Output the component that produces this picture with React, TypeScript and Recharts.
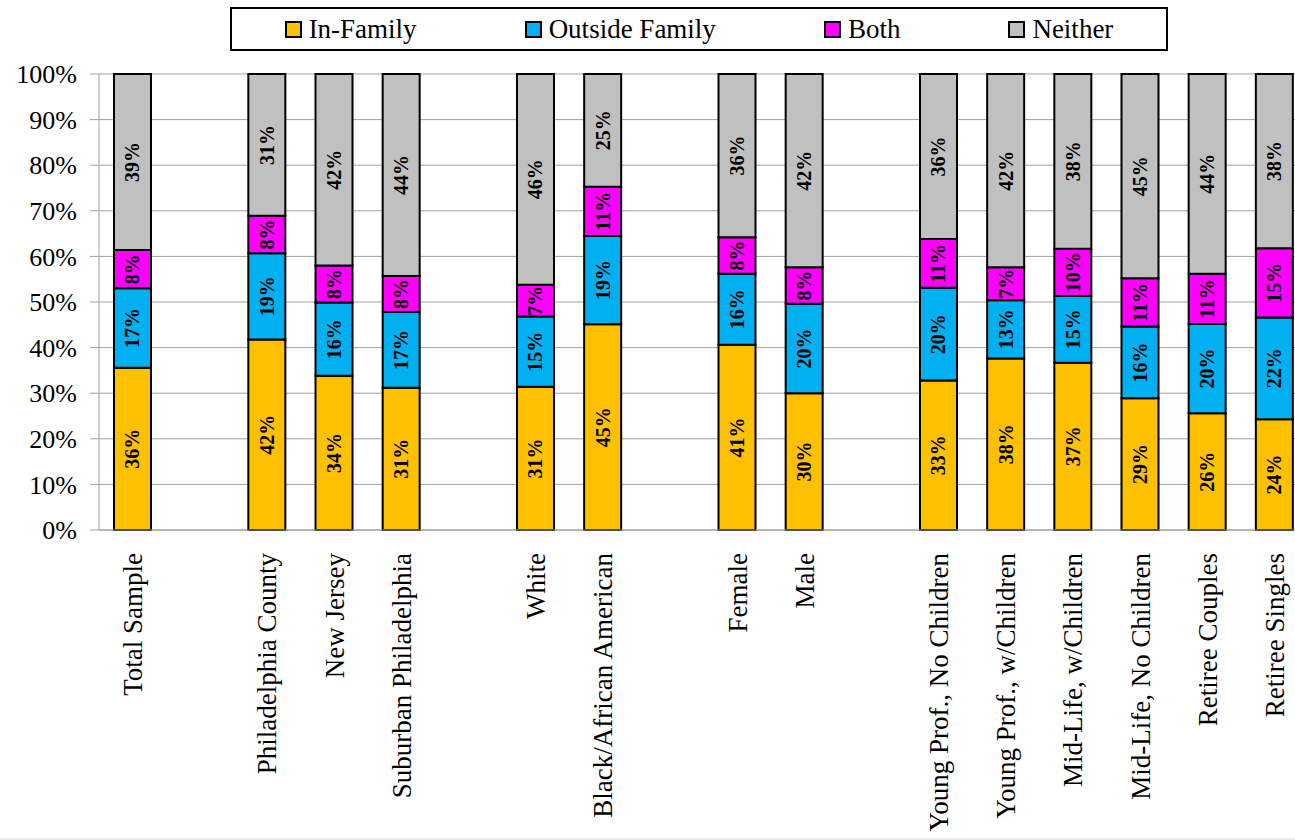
import { BarChart, Bar, XAxis, YAxis, CartesianGrid, LabelList } from "recharts";

const FONT = "'Liberation Serif', 'Times New Roman', serif";

// 18 slots on the axis; blank names leave a gap between groups
const categories = [
  "Total Sample",
  "",
  "Philadelphia County",
  "New Jersey",
  "Suburban Philadelphia",
  "",
  "White",
  "Black/African American",
  "",
  "Female",
  "Male",
  "",
  "Young Prof., No Children",
  "Young Prof., w/Children",
  "Mid-Life, w/Children",
  "Mid-Life, No Children",
  "Retiree Couples",
  "Retiree Singles",
];

const inFamily = [35.6, null, 41.8, 33.8, 31.2, null, 31.4, 45.1, null, 40.6, 30.0, null, 32.8, 37.6, 36.7, 28.9, 25.6, 24.3];
const outsideFamily = [17.4, null, 18.9, 16.1, 16.6, null, 15.4, 19.4, null, 15.6, 19.6, null, 20.3, 12.8, 14.6, 15.7, 19.6, 22.3];
const both = [8.4, null, 8.2, 8.1, 7.9, null, 7.0, 10.8, null, 8.0, 8.0, null, 10.7, 7.2, 10.4, 10.6, 11.0, 15.2];
const neither = [38.6, null, 31.1, 42.0, 44.3, null, 46.2, 24.7, null, 35.8, 42.4, null, 36.2, 42.4, 38.3, 44.8, 43.8, 38.2];

const yTicks = [0, 10, 20, 30, 40, 50, 60, 70, 80, 90, 100];

const SERIES = [
  { key: "inFamily", name: "In-Family", color: "#FFC000" },
  { key: "outsideFamily", name: "Outside Family", color: "#00B0F0" },
  { key: "both", name: "Both", color: "#FF00FF" },
  { key: "neither", name: "Neither", color: "#C0C0C0" },
];

const data = categories.map((name, i) => ({
  slot: i,
  name,
  inFamily: inFamily[i],
  outsideFamily: outsideFamily[i],
  both: both[i],
  neither: neither[i],
}));

// slot boundaries, used only for the small tick marks under the axis
const slotEdges = Array.from({ length: categories.length + 1 }, (_, i) => i);

const GRID = "#a0a0a0";

function CategoryTick({ x, y, payload }: any) {
  const label = categories[payload.value];
  if (!label) return null;
  return (
    <text
      x={x}
      y={y}
      transform={`rotate(-90, ${x}, ${y})`}
      textAnchor="end"
      dy="0.35em"
      fontSize={27}
      fontFamily={FONT}
      fill="#000"
    >
      {label}
    </text>
  );
}

const renderSegmentLabel = (props: any) => {
  const { x, y, width, height, value } = props;
  if (value == null) return null;
  const cx = Number(x) + Number(width) / 2;
  const cy = Number(y) + Number(height) / 2;
  return (
    <text
      x={cx}
      y={cy}
      transform={`rotate(-90, ${cx}, ${cy})`}
      textAnchor="middle"
      dy="0.35em"
      fontSize={20}
      fontWeight="bold"
      fontFamily={FONT}
      fill="#000"
    >
      {Math.round(value)}%
    </text>
  );
};

function LegendBox() {
  return (
    <div
      style={{
        position: "absolute",
        left: 230,
        top: 7,
        width: 938,
        height: 44,
        boxSizing: "border-box",
        border: "2px solid #000",
        background: "#fff",
        display: "flex",
        alignItems: "center",
        justifyContent: "center",
        gap: 108,
        fontFamily: FONT,
        fontSize: 27,
        color: "#000",
        zIndex: 2,
      }}
    >
      {SERIES.map((s) => (
        <div key={s.key} style={{ display: "flex", alignItems: "center" }}>
          <span
            style={{
              display: "inline-block",
              width: 17,
              height: 17,
              boxSizing: "border-box",
              border: "2px solid #000",
              background: s.color,
              marginRight: 7,
            }}
          />
          <span>{s.name}</span>
        </div>
      ))}
    </div>
  );
}

export default function App() {
  return (
    <div
      style={{
        position: "fixed",
        left: 0,
        top: 0,
        width: 1295,
        height: 840,
        overflow: "hidden",
        background: "#fff",
        boxSizing: "border-box",
        borderBottom: "2px solid #ececec",
      }}
    >
      <LegendBox />
      <BarChart
        width={1310}
        height={840}
        data={data}
        margin={{ top: 74, right: 2, left: 0, bottom: 0 }}
      >
        <CartesianGrid xAxisId="edges" vertical={false} stroke={GRID} strokeWidth={1} />
        <XAxis
          xAxisId="edges"
          dataKey="slot"
          type="number"
          domain={[0, categories.length]}
          ticks={slotEdges}
          allowDataOverflow
          height={1}
          tick={false}
          tickSize={8}
          axisLine={{ stroke: GRID }}
          tickLine={{ stroke: GRID }}
        />
        <XAxis
          xAxisId="names"
          dataKey="slot"
          type="category"
          interval={0}
          height={309}
          axisLine={false}
          tickLine={false}
          tickSize={0}
          tickMargin={22}
          tick={<CategoryTick />}
        />
        <YAxis
          width={99}
          domain={[0, 100]}
          ticks={yTicks}
          tickFormatter={(v) => `${v}%`}
          tickSize={9}
          tickMargin={13}
          axisLine={{ stroke: GRID }}
          tickLine={{ stroke: GRID }}
          tick={{ fontSize: 26, fontFamily: FONT, fill: "#000" }}
        />
        {SERIES.map((s) => (
          <Bar
            key={s.key}
            xAxisId="names"
            dataKey={s.key}
            name={s.name}
            stackId="share"
            fill={s.color}
            stroke="#000"
            strokeWidth={2}
            barSize={37}
            isAnimationActive={false}
          >
            <LabelList dataKey={s.key} content={renderSegmentLabel} />
          </Bar>
        ))}
      </BarChart>
    </div>
  );
}
